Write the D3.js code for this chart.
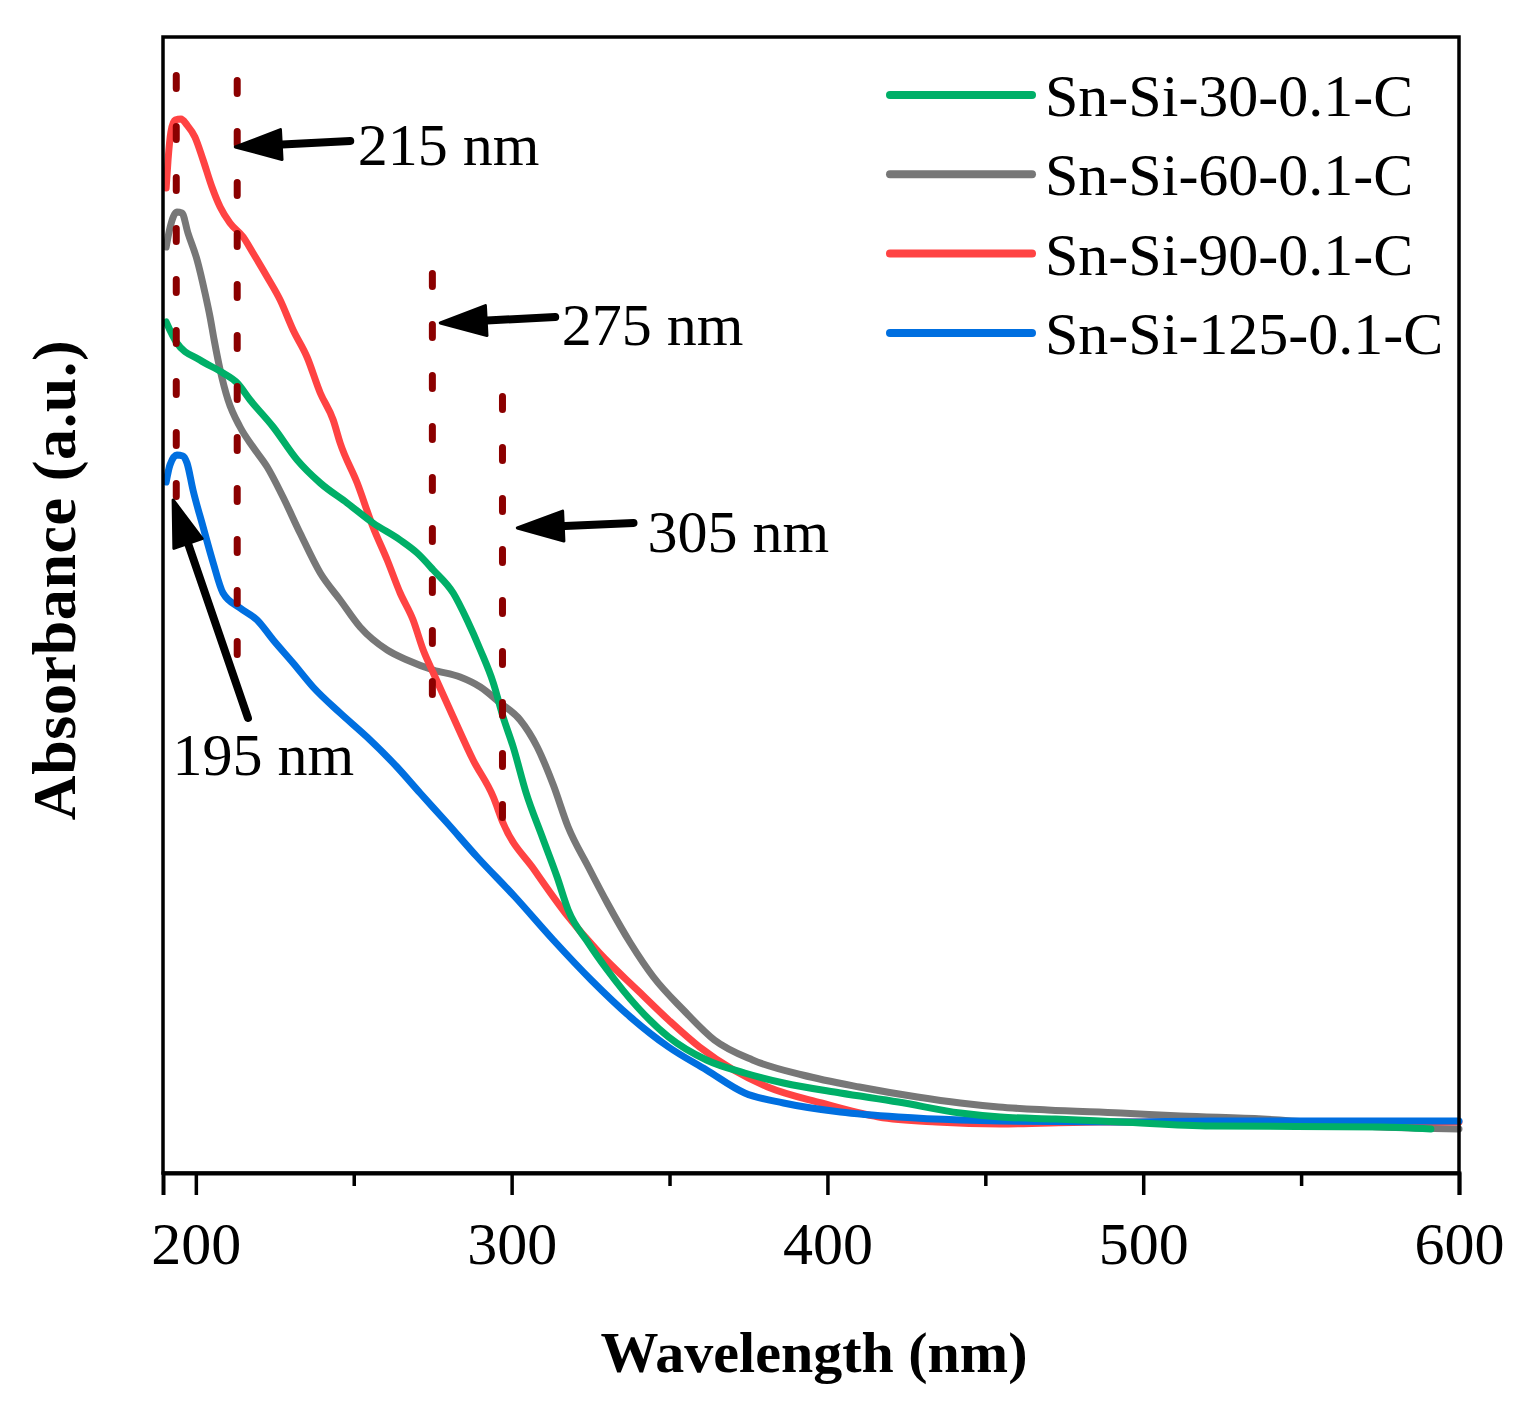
<!DOCTYPE html>
<html><head><meta charset="utf-8">
<script src="https://cdn.jsdelivr.net/npm/d3@7"></script>
<style>body{margin:0;background:#fff}text{font-family:"Liberation Serif","Times New Roman",serif}</style>
</head><body><svg id="c" width="1521" height="1407"></svg>
<script>
// ---- data: [wavelength (nm), absorbance (a.u.)] ----
const sn30 = [[190.6,0.851],[194.0,0.830],[201.3,0.813],[208.6,0.800],[213.1,0.790],[217.2,0.773],[224.5,0.746],[232.1,0.713],[239.4,0.690],[247.9,0.670],[256.1,0.650],[264.7,0.633],[270.1,0.620],[275.2,0.603],[281.5,0.580],[285.9,0.553],[290.1,0.523],[294.2,0.490],[297.3,0.456],[300.5,0.426],[304.6,0.380],[309.7,0.336],[314.4,0.296],[317.9,0.263],[324.3,0.230],[330.3,0.203],[339.8,0.166],[349.7,0.136],[361.7,0.113],[373.8,0.100],[386.1,0.090],[404.1,0.080],[422.5,0.071],[442.1,0.060],[454.8,0.056],[472.2,0.054],[492.9,0.051],[521.4,0.047],[575.3,0.046],[591.1,0.044]];
const sn60 = [[190.6,0.926],[191.8,0.945],[194.0,0.961],[195.6,0.960],[197.5,0.940],[200.4,0.913],[202.9,0.880],[204.5,0.856],[205.8,0.833],[207.7,0.803],[210.2,0.773],[214.0,0.746],[218.1,0.726],[222.6,0.706],[227.6,0.676],[233.0,0.640],[239.4,0.600],[245.7,0.573],[252.0,0.546],[260.6,0.523],[266.9,0.513],[275.2,0.503],[283.7,0.496],[290.1,0.486],[296.4,0.470],[302.7,0.453],[308.1,0.426],[313.2,0.388],[317.9,0.346],[324.3,0.306],[330.3,0.270],[337.6,0.230],[344.9,0.196],[354.4,0.163],[364.2,0.133],[376.3,0.113],[392.1,0.098],[410.1,0.086],[428.5,0.076],[442.1,0.070],[454.2,0.066],[469.7,0.063],[492.9,0.060],[511.9,0.057],[537.9,0.054],[575.3,0.046],[600.0,0.044]];
const sn90 = [[190.6,0.985],[191.2,1.013],[192.1,1.041],[193.4,1.053],[195.3,1.054],[197.2,1.048],[199.7,1.036],[202.3,1.013],[205.1,0.986],[207.7,0.966],[210.8,0.950],[215.0,0.936],[218.1,0.920],[222.6,0.896],[226.7,0.873],[230.8,0.843],[235.2,0.816],[239.4,0.780],[243.5,0.753],[245.7,0.730],[251.1,0.690],[256.1,0.646],[260.6,0.613],[264.7,0.580],[268.8,0.553],[272.0,0.523],[275.2,0.500],[281.5,0.456],[287.8,0.413],[294.2,0.376],[297.3,0.350],[307.2,0.303],[317.0,0.260],[327.8,0.220],[339.8,0.183],[349.7,0.153],[359.5,0.126],[370.3,0.103],[381.1,0.086],[398.1,0.070],[416.2,0.056],[434.5,0.051],[454.8,0.049],[486.5,0.051],[549.9,0.051],[600.0,0.051]];
const sn125 = [[190.6,0.691],[191.8,0.708],[194.0,0.718],[195.9,0.717],[197.2,0.710],[199.1,0.683],[202.3,0.646],[205.5,0.610],[208.6,0.580],[214.0,0.565],[219.4,0.553],[224.5,0.533],[230.8,0.510],[237.1,0.486],[245.7,0.460],[254.2,0.436],[263.7,0.406],[271.0,0.380],[279.6,0.350],[289.1,0.316],[301.1,0.276],[313.2,0.233],[325.2,0.193],[337.6,0.156],[349.7,0.126],[361.7,0.103],[373.8,0.080],[386.1,0.070],[404.1,0.061],[422.5,0.056],[442.1,0.053],[454.8,0.052],[492.9,0.051],[521.4,0.052],[600.0,0.052]];

const seriesNames = ["Sn-Si-30-0.1-C","Sn-Si-60-0.1-C","Sn-Si-90-0.1-C","Sn-Si-125-0.1-C"];
const seriesColors = ["#00AF68","#777777","#FF4343","#006FE0"];
const seriesData = [sn30, sn60, sn90, sn125];
const drawOrder = [1, 2, 3, 0];

const xTicks = [200, 300, 400, 500, 600];
const xMinorTicks = [250, 350, 450, 550];

// dashed marker lines: wavelength, top value, bottom value
const markerX = [193.8, 213.1, 274.9, 297.1];
const markerTop = [1.101, 1.096, 0.903, 0.780];
const markerBottom = [0.675, 0.518, 0.478, 0.350];

// annotations: label, arrow tip [w,v], arrow tail [w,v], text anchor [w,v]
const annoLabels = ["215 nm","275 nm","305 nm","195 nm"];
const annoTip = [[212.5,1.026],[277.4,0.850],[301.8,0.645],[192.8,0.673]];
const annoTail = [[248.9,1.032],[313.8,0.856],[338.6,0.650],[216.5,0.455]];
const annoText = [[251.3,1.008],[315.9,0.828],[343.0,0.621],[192.6,0.398]];

// ---- drawing ----
const svg = d3.select("#c");
const L = 163, R = 1459, T = 37, B = 1173;
const x = d3.scaleLinear().domain([189.6, 600]).range([L, R]);
const y = d3.scaleLinear().domain([0, 1.136]).range([B, T]);

const line = d3.line().x(d => x(d[0])).y(d => y(d[1])).curve(d3.curveMonotoneX);

const curves = svg.append("g");
drawOrder.forEach(i => {
  curves.append("path").datum(seriesData[i])
    .attr("d", line).attr("fill","none")
    .attr("stroke", seriesColors[i]).attr("stroke-width", 7)
    .attr("stroke-linejoin","round").attr("stroke-linecap","round");
});

// dashed marker lines
svg.append("g").selectAll("line").data(markerX).join("line")
  .attr("x1", d => x(d)).attr("x2", d => x(d))
  .attr("y1", (d,i) => y(markerTop[i]) + 3.5).attr("y2", (d,i) => y(markerBottom[i]))
  .attr("stroke","#8B0000").attr("stroke-width",7)
  .attr("stroke-dasharray","13 38").attr("stroke-linecap","round");

// arrows
const ag = svg.append("g");
annoLabels.forEach((lab, i) => {
  const tx = x(annoTip[i][0]), ty = y(annoTip[i][1]);
  const sx = x(annoTail[i][0]), sy = y(annoTail[i][1]);
  const dx = sx - tx, dy = sy - ty, len = Math.hypot(dx, dy);
  const ux = dx/len, uy = dy/len, px = -uy, py = ux;
  const hl = 46, hw = 15;
  const bx = tx + ux*hl, by = ty + uy*hl;
  ag.append("line").attr("x1", sx).attr("y1", sy).attr("x2", bx - ux*4).attr("y2", by - uy*4)
    .attr("stroke","#000").attr("stroke-width",8).attr("stroke-linecap","round");
  ag.append("path")
    .attr("d", `M${tx},${ty}L${bx+px*hw},${by+py*hw}L${bx-px*hw},${by-py*hw}Z`)
    .attr("fill","#000").attr("stroke","#000").attr("stroke-width",3).attr("stroke-linejoin","round");
  ag.append("text").attr("x", x(annoText[i][0])).attr("y", y(annoText[i][1]))
    .attr("font-size",60).attr("fill","#000").text(lab);
});

// frame
svg.append("rect").attr("x", L).attr("y", T).attr("width", R - L).attr("height", B - T)
  .attr("fill","none").attr("stroke","#000").attr("stroke-width",3.5);

// x axis
const ax = svg.append("g").attr("transform", `translate(0,${B})`);
ax.call(d3.axisBottom(x).tickValues(xTicks).tickSize(22).tickPadding(26).tickFormat(d3.format("d")));
ax.select(".domain").attr("stroke-width",4);
ax.selectAll(".tick line").attr("stroke-width",3.5);
ax.selectAll(".tick text").attr("font-size",60).attr("font-family",'"Liberation Serif","Times New Roman",serif').attr("fill","#000");
const axm = svg.append("g").attr("transform", `translate(0,${B})`);
axm.call(d3.axisBottom(x).tickValues(xMinorTicks).tickSize(13).tickFormat(""));
axm.select(".domain").remove();
axm.selectAll(".tick line").attr("stroke-width",3.5);

// axis titles
svg.append("text").attr("x", 814).attr("y", 1372).attr("text-anchor","middle")
  .attr("font-size",58).attr("font-weight","bold").text("Wavelength (nm)");
svg.append("text").attr("transform","translate(75,580) rotate(-90)").attr("text-anchor","middle")
  .attr("font-size",62).attr("font-weight","bold").attr("letter-spacing",0.6).text("Absorbance (a.u.)");

// legend
const lg = svg.append("g");
seriesNames.forEach((n, i) => {
  const ly = 95 + i * 79.3;
  lg.append("line").attr("x1", 890).attr("x2", 1032).attr("y1", ly).attr("y2", ly)
    .attr("stroke", seriesColors[i]).attr("stroke-width", 8).attr("stroke-linecap","round");
  lg.append("text").attr("x", 1045).attr("y", ly + 21).attr("font-size", 60).text(n);
});
</script></body></html>
